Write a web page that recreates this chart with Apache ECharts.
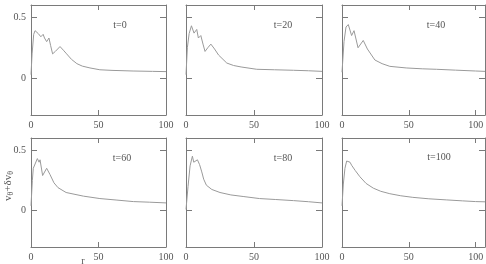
<!DOCTYPE html>
<html>
<head>
<meta charset="utf-8">
<script src="https://cdn.jsdelivr.net/npm/echarts@6/dist/echarts.min.js"></script>
<style>
  html, body { margin: 0; padding: 0; background: #fff; }
  #chart { width: 486px; height: 264px; }
</style>
</head>
<body>
<div id="chart"></div>
<script>
// panel titles
const titles = ['t=0', 't=20', 't=40', 't=60', 't=80', 't=100'];
const xTickValues = [0, 50, 100];
const yTickValues = [0, 0.5];

// r / (v_theta + dv_theta)
const r0 = [0, 0.8, 2, 3, 4.2, 5.4, 6.5, 7.3, 8, 9, 10, 11.6, 13.3, 14.5, 16, 18, 21.5, 24, 26.4, 30, 34, 38, 43.7, 51, 60, 75.6, 90, 100];
const v0 = [0.03, 0.2, 0.36, 0.39, 0.38, 0.366, 0.37, 0.34, 0.35, 0.36, 0.33, 0.30, 0.33, 0.27, 0.20, 0.22, 0.26, 0.23, 0.20, 0.155, 0.12, 0.10, 0.085, 0.07, 0.065, 0.06, 0.057, 0.055];

const r20 = [0, 1, 2.3, 4, 5.9, 7.9, 9.1, 10.9, 12.5, 14, 16, 18.3, 21, 24, 30, 35, 40.5, 52, 65, 79, 90, 100];
const v20 = [0.03, 0.25, 0.366, 0.43, 0.37, 0.40, 0.33, 0.35, 0.28, 0.22, 0.25, 0.28, 0.24, 0.19, 0.125, 0.105, 0.093, 0.074, 0.07, 0.066, 0.062, 0.057];

const r40 = [0, 1.5, 3, 4.7, 7.2, 9, 12, 15.9, 19, 24.6, 30, 35.8, 48, 60, 70.6, 85, 100, 107];
const v40 = [0.05, 0.3, 0.42, 0.44, 0.35, 0.39, 0.25, 0.31, 0.24, 0.15, 0.12, 0.098, 0.085, 0.078, 0.074, 0.067, 0.06, 0.057];

const r60 = [0, 1, 1.7, 3, 4.7, 6, 6.7, 8.6, 11.6, 14, 17, 20, 26, 38.8, 51, 63, 75.8, 88, 100];
const v60 = [0.04, 0.25, 0.35, 0.35, 0.43, 0.40, 0.42, 0.29, 0.35, 0.30, 0.23, 0.19, 0.15, 0.12, 0.10, 0.088, 0.075, 0.07, 0.064];

const r80 = [0, 1.5, 3, 4.7, 5.7, 7, 8.4, 10, 11.6, 13, 15, 19, 25, 33, 42, 54, 66, 79, 90, 100];
const v80 = [0.01, 0.2, 0.37, 0.45, 0.40, 0.41, 0.42, 0.38, 0.32, 0.26, 0.21, 0.175, 0.15, 0.13, 0.117, 0.10, 0.092, 0.083, 0.074, 0.064];

const r100 = [0, 1, 2.2, 3.5, 4.7, 6, 7.2, 10, 13.4, 18, 23.4, 29, 35.8, 44, 53, 65, 78, 90, 100, 107];
const v100 = [0.04, 0.22, 0.35, 0.41, 0.42, 0.40, 0.375, 0.33, 0.28, 0.225, 0.186, 0.16, 0.14, 0.123, 0.11, 0.098, 0.089, 0.081, 0.075, 0.073];

const rs = [r0, r20, r40, r60, r80, r100];
const vs = [v0, v20, v40, v60, v80, v100];
const xMax = [100, 100, 107, 100, 100, 107];

const frameColor = '#7a7a7a';
const textColor = '#555';
const font = 'Liberation Serif';

const cols = [{ left: 31, width: 135 }, { left: 186, width: 136 }, { left: 342, width: 143 }];
const rows = [{ top: 5, height: 110 }, { top: 138, height: 109 }];
const titlePos = [[120, 25], [283, 25], [436, 25], [122, 158], [283, 158], [439, 157]];

const grids = [], xAxes = [], yAxes = [], series = [], graphics = [];

for (let i = 0; i < 6; i++) {
	const col = cols[i % 3], row = rows[Math.floor(i / 3)];
	grids.push({ left: col.left, width: col.width, top: row.top, height: row.height, outerBoundsMode: 'none' });

	const axisLine = { show: true, onZero: false, lineStyle: { color: frameColor, width: 1 } };
	const tick = { inside: true, length: 5, lineStyle: { color: frameColor }, customValues: xTickValues };

	xAxes.push({
		type: 'value', gridIndex: i, position: 'bottom', min: 0, max: xMax[i],
		axisLine, axisTick: tick, splitLine: { show: false },
		axisLabel: { customValues: xTickValues, color: textColor, fontFamily: font, fontSize: 10, margin: 5 }
	});
	xAxes.push({
		type: 'value', gridIndex: i, position: 'top', min: 0, max: xMax[i],
		axisLine, axisTick: tick, splitLine: { show: false },
		axisLabel: { show: false }
	});

	const ytick = { inside: true, length: 6, lineStyle: { color: frameColor }, customValues: yTickValues };
	yAxes.push({
		type: 'value', gridIndex: i, position: 'left', min: -0.3, max: 0.6,
		axisLine, axisTick: ytick, splitLine: { show: false },
		axisLabel: { show: i % 3 === 0, customValues: yTickValues, color: textColor, fontFamily: font, fontSize: 10, margin: 5 }
	});
	yAxes.push({
		type: 'value', gridIndex: i, position: 'right', min: -0.3, max: 0.6,
		axisLine, axisTick: ytick, splitLine: { show: false },
		axisLabel: { show: false }
	});

	series.push({
		type: 'line',
		xAxisIndex: 2 * i,
		yAxisIndex: 2 * i,
		symbol: 'none',
		animation: false,
		lineStyle: { color: '#9a9a9a', width: 1 },
		data: rs[i].map((r, k) => [r, vs[i][k]])
	});

	graphics.push({
		type: 'text', x: titlePos[i][0], y: titlePos[i][1],
		style: { text: titles[i], fill: textColor, font: '10px ' + font, textAlign: 'center', textVerticalAlign: 'middle' }
	});
}

// axis names
graphics.push({
	type: 'text', x: 8, y: 186, rotation: Math.PI / 2,
	style: {
		text: '{a|v}{s|θ}{a|+δv}{s|θ}',
		fill: textColor,
		align: 'center',
		verticalAlign: 'middle',
		rich: {
			a: { fontFamily: font, fontSize: 11, fill: textColor },
			s: { fontFamily: font, fontSize: 8, fill: textColor, padding: [6, 0, 0, 0] }
		}
	}
});
graphics.push({
	type: 'text', x: 83, y: 261,
	style: { text: 'r', fill: textColor, font: '10px ' + font, textAlign: 'center', textVerticalAlign: 'middle' }
});

const chart = echarts.init(document.getElementById('chart'), null, { renderer: 'canvas' });
chart.setOption({
	animation: false,
	grid: grids,
	xAxis: xAxes,
	yAxis: yAxes,
	series,
	graphic: graphics
});
</script>
</body>
</html>
